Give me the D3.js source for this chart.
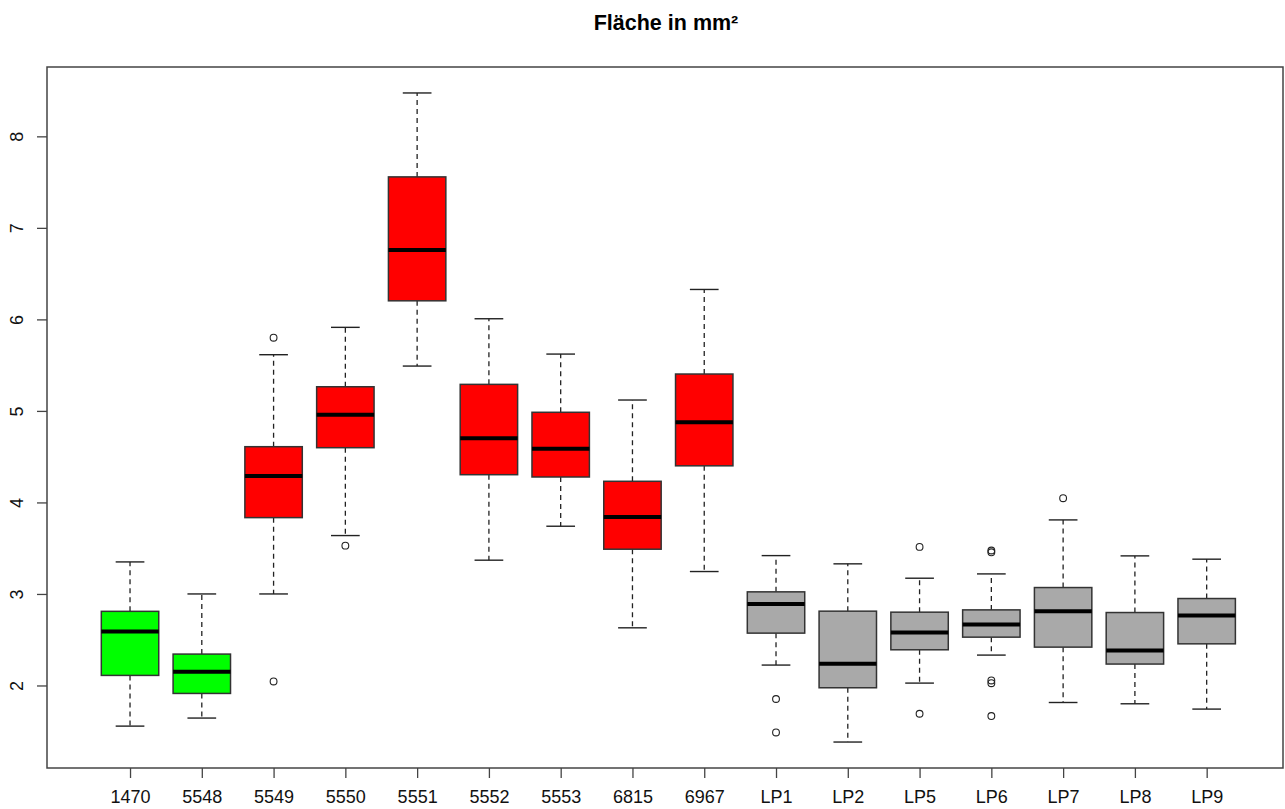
<!DOCTYPE html>
<html>
<head>
<meta charset="utf-8">
<script src="https://cdn.jsdelivr.net/npm/d3@7"></script>
<style>
  html, body { margin: 0; padding: 0; background: #fff; }
  svg { display: block; }
  text { font-family: "Liberation Sans", Arial, sans-serif; }
</style>
</head>
<body>
<svg id="chart" width="1285" height="809"></svg>
<script>
const title = "Fläche in mm²";
const categories = ["1470","5548","5549","5550","5551","5552","5553","6815","6967","LP1","LP2","LP5","LP6","LP7","LP8","LP9"];
const groups     = ["g","g","r","r","r","r","r","r","r","x","x","x","x","x","x","x"];
const whiskerLow = [1.556,1.644,3.000,3.638,5.490,3.369,3.740,2.630,3.245,2.223,1.382,2.026,2.332,1.814,1.800,1.742];
const q1         = [2.110,1.913,3.834,4.598,6.203,4.303,4.278,3.489,4.400,2.572,1.975,2.390,2.528,2.419,2.234,2.455];
const median     = [2.590,2.150,4.289,4.958,6.757,4.700,4.587,3.842,4.876,2.889,2.237,2.579,2.666,2.812,2.382,2.764];
const q3         = [2.810,2.343,4.609,5.264,7.557,5.290,4.985,4.231,5.403,3.023,2.812,2.801,2.826,3.070,2.797,2.950];
const whiskerHigh= [3.350,3.000,5.614,5.913,8.474,6.007,5.621,5.119,6.327,3.419,3.329,3.172,3.219,3.809,3.416,3.380];
const outliers   = [[],[],[5.80,2.044],[3.528],[],[],[],[],[],[1.852,1.487],[],[3.514,1.691],[3.455,3.475,2.025,2.055,1.666],[4.046],[],[]];
const yTicks = [2,3,4,5,6,7,8];
const groupColors = {g: "#00FF00", r: "#FF0000", x: "#A9A9A9"};

const svg = d3.select("#chart");
const frame = {left: 47, right: 1283, top: 67, bottom: 768};

// y domain: data range extended by 4% (R style)
const allVals = whiskerLow.concat(whiskerHigh, outliers.flat());
const dMin = d3.min(allVals), dMax = d3.max(allVals);
const pad = (dMax - dMin) * 0.04;
const y = d3.scaleLinear().domain([dMin - pad, dMax + pad]).range([frame.bottom, frame.top]);

const n = categories.length;
const x = d3.scaleLinear().domain([0.5 - 0.04*n, n + 0.5 + 0.04*n]).range([48.2, 1288.5]);
const boxW = (x(1) - x(0)) * 0.8;
const capW = boxW * 0.5;
const ink = "#222";

// title
svg.append("text").attr("x", 666).attr("y", 30)
  .attr("text-anchor", "middle").attr("font-weight", "bold").attr("font-size", 21.5)
  .attr("fill", "#000").text(title);

// boxes
const g = svg.append("g");
categories.forEach((c, i) => {
  const cx = x(i + 1);
  // whiskers
  g.append("line").attr("x1", cx).attr("x2", cx).attr("y1", y(q3[i])).attr("y2", y(whiskerHigh[i]))
    .attr("stroke", ink).attr("stroke-width", 1.3).attr("stroke-dasharray", "5,4");
  g.append("line").attr("x1", cx).attr("x2", cx).attr("y1", y(q1[i])).attr("y2", y(whiskerLow[i]))
    .attr("stroke", ink).attr("stroke-width", 1.3).attr("stroke-dasharray", "5,4");
  // caps
  [whiskerHigh[i], whiskerLow[i]].forEach(v => {
    g.append("line").attr("x1", cx - capW/2).attr("x2", cx + capW/2).attr("y1", y(v)).attr("y2", y(v))
      .attr("stroke", ink).attr("stroke-width", 1.4);
  });
  // box
  g.append("rect").attr("x", cx - boxW/2).attr("y", y(q3[i])).attr("width", boxW)
    .attr("height", y(q1[i]) - y(q3[i])).attr("fill", groupColors[groups[i]])
    .attr("stroke", "#333").attr("stroke-width", 1.5);
  // median
  g.append("line").attr("x1", cx - boxW/2).attr("x2", cx + boxW/2).attr("y1", y(median[i])).attr("y2", y(median[i]))
    .attr("stroke", "#000").attr("stroke-width", 4);
  // outliers
  outliers[i].forEach(v => {
    g.append("circle").attr("cx", cx).attr("cy", y(v)).attr("r", 3.4)
      .attr("fill", "none").attr("stroke", ink).attr("stroke-width", 1.1);
  });
});

// frame
svg.append("rect").attr("x", frame.left).attr("y", frame.top)
  .attr("width", frame.right - frame.left).attr("height", frame.bottom - frame.top)
  .attr("fill", "none").attr("stroke", "#444").attr("stroke-width", 1.5);

// x axis
const xAxis = d3.axisBottom(x).tickValues(d3.range(1, n + 1)).tickSize(10).tickPadding(12)
  .tickFormat(d => categories[d - 1]);
const xg = svg.append("g").attr("transform", `translate(0,${frame.bottom})`).call(xAxis);
xg.select(".domain").remove();
xg.selectAll("line").attr("stroke", "#444").attr("stroke-width", 1.3);
xg.selectAll("text").attr("font-size", 18).attr("fill", "#111")
  .style("font-family", "'Liberation Sans', Arial, sans-serif");

// y axis
const yAxis = d3.axisLeft(y).tickValues(yTicks).tickSize(10).tickFormat(d3.format("d"));
const yg = svg.append("g").attr("transform", `translate(${frame.left},0)`).call(yAxis);
yg.select(".domain").remove();
yg.selectAll("line").attr("stroke", "#444").attr("stroke-width", 1.3);
yg.selectAll("text").attr("font-size", 18).attr("fill", "#111")
  .style("font-family", "'Liberation Sans', Arial, sans-serif")
  .attr("x", null).attr("dy", null)
  .attr("text-anchor", "middle")
  .attr("transform", "translate(-24,0) rotate(-90)");
</script>
</body>
</html>
